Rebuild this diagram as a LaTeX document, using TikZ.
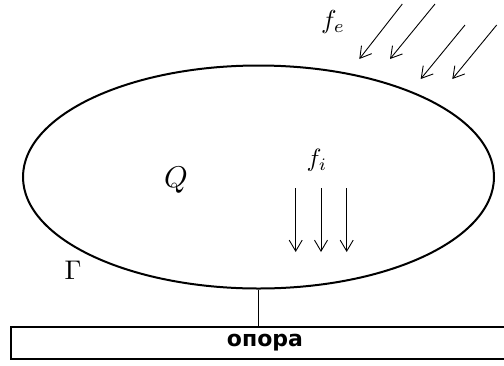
\documentclass[tikz,border=0pt]{standalone}
\usepackage{fontspec}
\newfontfamily\supfont{DejaVu Sans}
\usetikzlibrary{shapes.geometric,arrows.meta}
\begin{document}
\begin{tikzpicture}[x=1pt,y=-1pt,
  force/.style={line width=0.9pt,-{Straight Barb[length=11pt,width=13pt,line width=0.9pt]}},
  bodyshape/.style={ellipse,draw,line width=2pt,inner sep=0pt},
  supportbox/.style={draw,line width=1.2pt,inner sep=0pt,font=\supfont\bfseries\fontsize{22}{26}\selectfont},
  mathlabel/.style={inner sep=0pt}]
\useasboundingbox (0,0) rectangle (504,365);
\node[bodyshape,minimum width=471pt,minimum height=223pt] (body) at (258.5,177) {};
\node[supportbox,minimum width=508pt,minimum height=32pt] (support) at (265,343) {опора};
\draw[line width=1pt] (body.south) -- (body.south |- support.north);
% external forces
\coordinate (e1s) at (402.3,4);   \coordinate (e1t) at (359.3,59);
\coordinate (e2s) at (435,4);     \coordinate (e2t) at (390,59);
\coordinate (e3s) at (465,25);    \coordinate (e3t) at (420.7,79);
\coordinate (e4s) at (496.7,25);  \coordinate (e4t) at (452.3,79);
\draw[force] (e1s) -- (e1t);
\draw[force] (e2s) -- (e2t);
\draw[force] (e3s) -- (e3t);
\draw[force] (e4s) -- (e4t);
% internal forces
\coordinate (i1s) at (295.7,188); \coordinate (i1t) at (295.7,252);
\coordinate (i2s) at (321,188);   \coordinate (i2t) at (321,252);
\coordinate (i3s) at (346.7,188); \coordinate (i3t) at (346.7,252);
\draw[force] (i1s) -- (i1t);
\draw[force] (i2s) -- (i2t);
\draw[force] (i3s) -- (i3t);
% labels
\node[mathlabel,scale=2.6] (fe) at (333,22) {$f_e$};
\node[mathlabel,scale=2.5] (fi) at (317,160) {$f_i$};
\node[mathlabel,scale=3.0] (Q) at (176,180) {$Q$};
\node[mathlabel,scale=2.7] (G) at (73,270) {$\Gamma$};
\end{tikzpicture}
\end{document}
